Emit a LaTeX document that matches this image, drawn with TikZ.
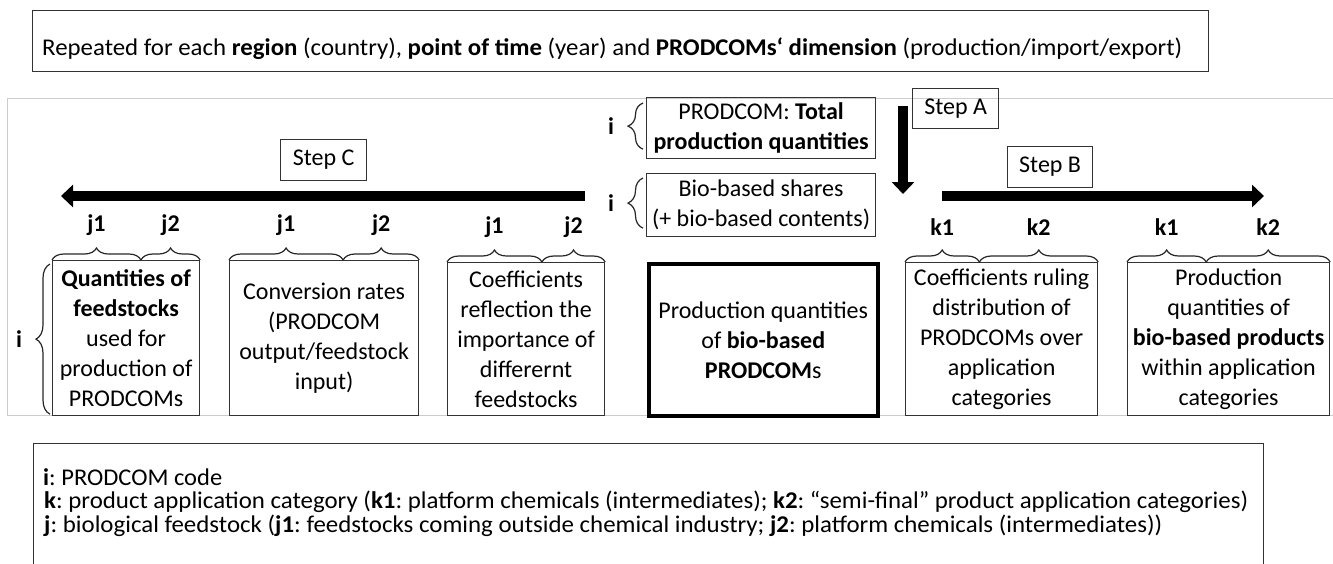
\documentclass[tikz,border=0pt]{standalone}
\usepackage{fontspec}
\setmainfont{Carlito}
\usetikzlibrary{calc,arrows.meta,decorations.pathreplacing,positioning}
\frenchspacing

\begin{document}
\begin{tikzpicture}[x=1pt,y=-1pt,
	box/.style={draw=black!80,line width=1.2pt,align=center,inner sep=0pt,anchor=north west,font=\fontsize{24}{30}\selectfont},
	stepbox/.style={box,minimum width=86pt,minimum height=41pt},
	legline/.style={anchor=base west,inner sep=0pt,font=\fontsize{24}{24}\selectfont},
	bigarrow/.style={line width=10pt,-{Triangle[length=12pt,width=22pt]}},
	brc/.style={draw=black!85,line width=1.2pt,decorate,decoration={brace,amplitude=12pt}},
	jlbl/.style={yshift=35pt,font=\fontsize{24}{30}\selectfont\bfseries},
	ilbl/.style={font=\fontsize{24}{30}\selectfont\bfseries}]
		\path[use as bounding box,clip] (0,0) rectangle (1333,563);
		\draw[black!20,line width=1pt] (7,98) rectangle (1345,415);
		% header
		\node[box,minimum width=1176pt,minimum height=61pt] (header) at (32,10) {};
		\node[anchor=base west,inner sep=0pt,font=\fontsize{24}{30}\selectfont] (headtxt) at (42,55) {\resizebox{1140pt}{\height}{Repeated for each \textbf{region} (country), \textbf{point of time} (year) and \textbf{PRODCOMs‘ dimension} (production/import/export)}};
		% legend
		\node[box,minimum width=1230pt,minimum height=140pt] (legend) at (33,443) {};
		\node[legline] (legi) at (43,485) {\resizebox{179pt}{\height}{\textbf{i}: PRODCOM code}};
		\node[legline] (legk) at (44,508.5) {\resizebox{1204pt}{\height}{\textbf{k}: product application category (\textbf{k1}: platform chemicals (intermediates); \textbf{k2}: “semi-final” product application categories)}};
		\node[legline] (legj) at (44,532) {\resizebox{1118pt}{\height}{\textbf{j}: biological feedstock (\textbf{j1}: feedstocks coming outside chemical industry; \textbf{j2}: platform chemicals (intermediates))}};
		% inputs
		\node[box,minimum width=229pt,minimum height=61pt] (totprod) at (646,97) {PRODCOM: \textbf{Total}\\\textbf{production quantities}};
		\node[box,minimum width=229pt,minimum height=63pt] (bioshare) at (646,173) {Bio-based shares\\(+ bio-based contents)};
		\node[box,minimum width=229pt,minimum height=152pt,line width=3.5pt,draw=black] (bpcom) at (647,262) {Production quantities\\of \textbf{bio-based}\\\textbf{PRODCOM}s};
		% step C side
		\node[box,minimum width=147pt,minimum height=155pt] (qfeed) at (52,260) {\textbf{Quantities of}\\\textbf{feedstocks}\\used for\\production of\\PRODCOMs};
		\node[box,minimum width=189pt,minimum height=155pt] (convrate) at (229,260) {Conversion rates\\(PRODCOM\\output/feedstock\\input)};
		\node[box,minimum width=157pt,minimum height=153pt] (coefimp) at (447,262) {Coefficients\\reflection the\\importance of\\differernt\\feedstocks};
		% step B side
		\node[box,minimum width=192pt,minimum height=153pt] (coefdist) at (905,262) {Coefficients ruling\\distribution of\\PRODCOMs over\\application\\categories};
		\node[box,minimum width=202pt,minimum height=153pt] (bprod) at (1127,262) {Production\\quantities of\\\textbf{bio-based products}\\within application\\categories};
		% steps
		\node[stepbox,minimum height=40pt] (stepA) at (912,88) {Step A};
		\node[stepbox,minimum width=85pt] (stepB) at (1007,146) {Step B};
		\node[stepbox] (stepC) at (280,139) {Step C};
		\coordinate (afrom) at (903,106);
		\coordinate (ato) at (903,194);
		\coordinate (bfrom) at (942,196);
		\coordinate (bto) at (1264,196);
		\coordinate (cfrom) at (585,196);
		\coordinate (cto) at (61,196);
		\draw[bigarrow] (afrom) -- (ato);
		\draw[bigarrow] (bfrom) -- (bto);
		\draw[bigarrow] (cfrom) -- (cto);
		% braces i
		\draw[brc,decoration={brace,amplitude=15pt}] ($(totprod.south west)+(-3,-10)$) -- node[ilbl,xshift=-32pt]{i} ($(totprod.north west)+(-3,6)$);
		\draw[brc,decoration={brace,amplitude=15pt}] ($(bioshare.south west)+(-3,-9)$) -- node[ilbl,xshift=-32pt]{i} ($(bioshare.north west)+(-3,5)$);
		\draw[brc,decoration={brace,amplitude=14pt}] ($(qfeed.south west)+(-2,-2)$) -- node[ilbl,xshift=-31pt]{i} ($(qfeed.north west)+(-2,4)$);
		% braces j, k
		\coordinate (qsplit) at ($(qfeed.north west)!0.6!(qfeed.north east)$);
		\draw[brc] (qfeed.north west) -- node[jlbl]{j1} (qsplit);
		\draw[brc] (qsplit) -- node[jlbl]{j2} (qfeed.north east);
		\coordinate (csplit) at ($(convrate.north west)!0.6!(convrate.north east)$);
		\draw[brc] (convrate.north west) -- node[jlbl]{j1} (csplit);
		\draw[brc] (csplit) -- node[jlbl]{j2} (convrate.north east);
		\coordinate (isplit) at ($(coefimp.north west)!0.6!(coefimp.north east)$);
		\draw[brc] (coefimp.north west) -- node[jlbl]{j1} (isplit);
		\draw[brc] (isplit) -- node[jlbl]{j2} (coefimp.north east);
		\coordinate (dsplit) at ($(coefdist.north west)!0.385!(coefdist.north east)$);
		\draw[brc] (coefdist.north west) -- node[jlbl]{k1} (dsplit);
		\draw[brc] (dsplit) -- node[jlbl]{k2} (coefdist.north east);
		\coordinate (psplit) at ($(bprod.north west)!0.39!(bprod.north east)$);
		\draw[brc] (bprod.north west) -- node[jlbl]{k1} (psplit);
		\draw[brc] (psplit) -- node[jlbl]{k2} (bprod.north east);
\end{tikzpicture}
\end{document}
